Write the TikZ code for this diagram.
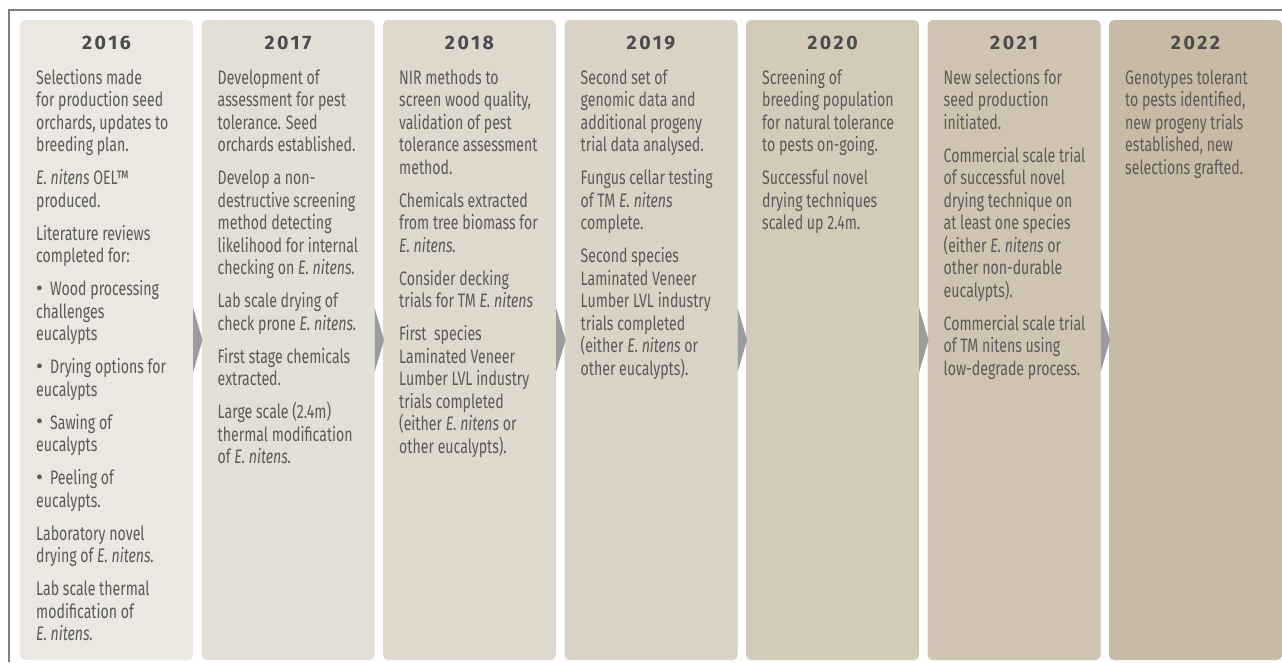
\documentclass[tikz,border=0pt]{standalone}
\usepackage{fontspec}
\setmainfont{Fira Sans}[FakeStretch=0.725]
\newfontfamily\yearfont{Fira Sans}[LetterSpace=13]
\newfontfamily\bulfont{Fira Sans}
\usetikzlibrary{calc}
\definecolor{cA}{HTML}{EBE7E1}
\definecolor{cB}{HTML}{E4DFD5}
\definecolor{cC}{HTML}{DFD8CC}
\definecolor{cD}{HTML}{DAD2C4}
\definecolor{cE}{HTML}{D4CABA}
\definecolor{cF}{HTML}{CFC4B1}
\definecolor{cG}{HTML}{C8BBA5}
\definecolor{txt}{HTML}{5A5A5A}
\definecolor{yr}{HTML}{4B4B4D}
\definecolor{arr}{HTML}{9B9BA0}
\definecolor{framecol}{HTML}{808080}
\newcommand{\bul}[1]{\par\hangindent=14pt\hangafter=1\noindent\makebox[14pt][l]{\raisebox{0.3pt}{\bulfont\fontsize{21}{22.5}\selectfont\textbullet}}#1\par}
\newcommand{\ent}{\textit{E. nitens}}
\newcommand{\coltext}[1]{\parbox[t]{180pt}{\fontsize{19.5}{22.5}\selectfont\raggedright\setlength{\parindent}{0pt}\setlength{\parskip}{10.5pt}#1}}
\tikzset{
  panel/.style={rectangle, rounded corners=5pt, minimum width=173pt, minimum height=640pt, inner sep=0pt, outer sep=0pt},
  yearlbl/.style={anchor=base, inner sep=0pt, text=yr, font=\yearfont\bfseries\fontsize{19.5}{22}\selectfont},
  coltxt/.style={anchor=base west, inner sep=0pt, text=txt},
  arrowtri/.style={fill=arr}
}
\begin{document}
\begin{tikzpicture}[x=1pt,y=-1pt]
\fill[white] (0,0) rectangle (1282,662);
\useasboundingbox (0,0) rectangle (1282,662);
\draw[framecol, line width=1.5pt] (9,662) -- (9,10) -- (1282,10);
% panels
\node[panel, fill=cA] (p1) at (106.5,340) {};
\node[panel, fill=cB] (p2) at (288,340) {};
\node[panel, fill=cC] (p3) at (469.5,340) {};
\node[panel, fill=cD] (p4) at (651,340) {};
\node[panel, fill=cE] (p5) at (832.5,340) {};
\node[panel, fill=cF] (p6) at (1014,340) {};
\node[panel, fill=cG] (p7) at (1195.5,340) {};
% arrows
\foreach \a/\b in {p1/p2,p2/p3,p3/p4,p4/p5,p5/p6,p6/p7}{
  \fill[arrowtri] ($(\a.east)+(0,-32.5)$) -- ($(\a.east)+(0,32.5)$) -- ($(\b.west)+(1,0)$) -- cycle;
}
% years
\node[yearlbl] (y1) at (p1.north |- 0,49) {2016};
\node[yearlbl] (y2) at (p2.north |- 0,49) {2017};
\node[yearlbl] (y3) at (p3.north |- 0,49) {2018};
\node[yearlbl] (y4) at (p4.north |- 0,49) {2019};
\node[yearlbl] (y5) at (p5.north |- 0,49) {2020};
\node[yearlbl] (y6) at (p6.north |- 0,49) {2021};
\node[yearlbl] (y7) at (p7.north |- 0,49) {2022};
% texts
\node[coltxt] (t1) at ($(p1.west |- 0,84)+(16,0)$) {\coltext{%
Selections made\\for production seed\\orchards, updates to\\breeding plan.\par
\ent{} OEL™\\produced.\par
Literature reviews\\completed for:\par
\bul{Wood processing\\challenges\\eucalypts}
\bul{Drying options for\\eucalypts}
\bul{Sawing of\\eucalypts}
\bul{Peeling of\\eucalypts.}
Laboratory novel\\drying of \textit{E. nitens.}\par
Lab scale thermal\\modification of\\\textit{E. nitens.}}};
\node[coltxt] (t2) at ($(p2.west |- 0,84)+(16,0)$) {\coltext{%
Development of\\assessment for pest\\tolerance. Seed\\orchards established.\par
Develop a non-\\destructive screening\\method detecting\\likelihood for internal\\checking on \textit{E. nitens.}\par
Lab scale drying of\\check prone \textit{E. nitens.}\par
First stage chemicals\\extracted.\par
Large scale (2.4m)\\thermal modification\\of \textit{E. nitens.}}};
\node[coltxt] (t3) at ($(p3.west |- 0,84)+(16,0)$) {\coltext{%
NIR methods to\\screen wood quality,\\validation of pest\\tolerance assessment\\method.\par
Chemicals extracted\\from tree biomass for\\\textit{E. nitens.}\par
Consider decking\\trials for TM \ent\par
First\ \ species\\Laminated Veneer\\Lumber LVL industry\\trials completed\\(either \ent{} or\\other eucalypts).}};
\node[coltxt] (t4) at ($(p4.west |- 0,84)+(16,0)$) {\coltext{%
Second set of\\genomic data and\\additional progeny\\trial data analysed.\par
Fungus cellar testing\\of TM \ent\\complete.\par
Second species\\Laminated Veneer\\Lumber LVL industry\\trials completed\\(either \ent{} or\\other eucalypts).}};
\node[coltxt] (t5) at ($(p5.west |- 0,84)+(16,0)$) {\coltext{%
Screening of\\breeding population\\for natural tolerance\\to pests on-going.\par
Successful novel\\drying techniques\\scaled up 2.4m.}};
\node[coltxt] (t6) at ($(p6.west |- 0,84)+(16,0)$) {\coltext{%
New selections for\\seed production\\initiated.\par
Commercial scale trial\\of successful novel\\drying technique on\\at least one species\\(either \ent{} or\\other non-durable\\eucalypts).\par
Commercial scale trial\\of TM nitens using\\low-degrade process.}};
\node[coltxt] (t7) at ($(p7.west |- 0,84)+(16,0)$) {\coltext{%
Genotypes tolerant\\to pests identified,\\new progeny trials\\established, new\\selections grafted.}};
\end{tikzpicture}
\end{document}
